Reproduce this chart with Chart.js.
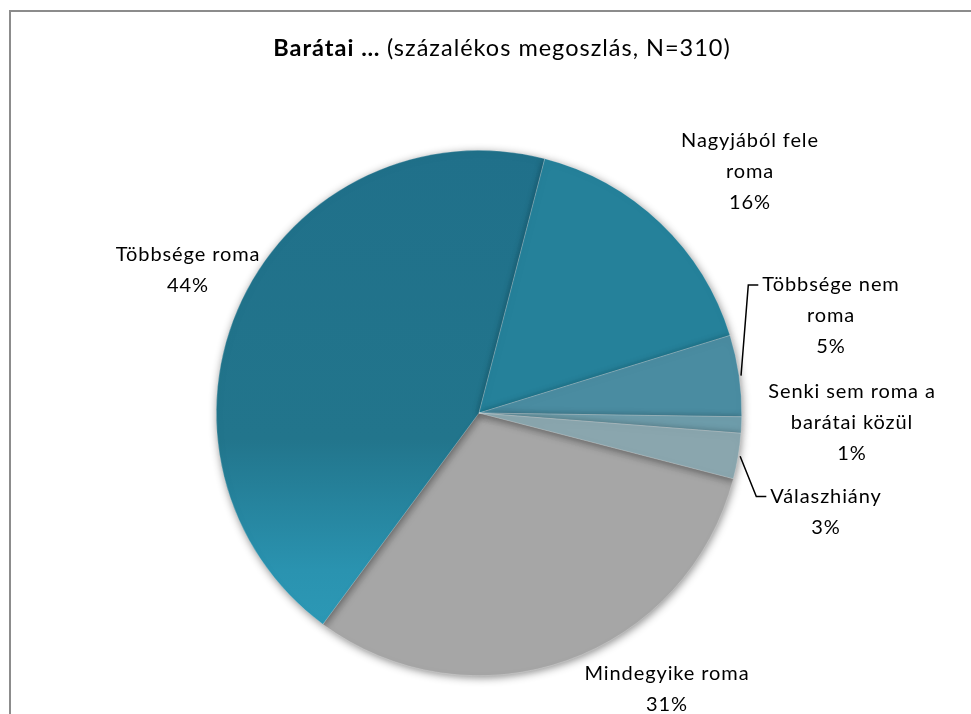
<!DOCTYPE html>
<html>
<head>
<meta charset="utf-8">
<script src="https://cdn.jsdelivr.net/npm/chart.js@4.4.1/dist/chart.umd.min.js"></script>
<style>
  html, body { margin: 0; padding: 0; background: #fff; }
  #wrap { position: relative; width: 971px; height: 714px; }
  #frame {
    position: absolute; left: 9px; top: 10px; width: 980px; height: 720px;
    border-left: 2px solid #8c8c8c; border-top: 2px solid #8c8c8c;
  }
</style>
</head>
<body>
<div id="wrap">
  <div id="frame"></div>
  <canvas id="pieChart" width="971" height="714"></canvas>
</div>
<script>
"use strict";

// data (percent, N=310)
var labels = [
  ['Mindegyike roma'],
  ['Többsége roma'],
  ['Nagyjából fele', 'roma'],
  ['Többsége nem', 'roma'],
  ['Senki sem roma a', 'barátai közül'],
  ['Válaszhiány']
];
var values = [31.1, 43.9, 16.2, 5.0, 1.0, 2.8];
var colors = ['#a6a6a6', null, '#25819a', '#4a8ca1', '#6e9dab', '#8aa6ae'];

// label block offsets from pie centre (px), and which labels get a leader line
var labelOffset = [
  [188, 276], [-291, -143], [271, -241], [352, -97], [373, 10], [347, 99]
];
var leader = [false, false, false, true, false, true];

var FONT = 'Lato, "Open Sans", sans-serif';

function bigSliceGradient(ctx, area) {
  var g = ctx.createLinearGradient(0, area.top, 0, area.bottom);
  g.addColorStop(0, '#20708a');
  g.addColorStop(0.55, '#22758c');
  g.addColorStop(0.8, '#2a93b0');
  g.addColorStop(1, '#2e9dba');
  return g;
}

var shadowPlugin = {
  id: 'shadow',
  beforeDatasetsDraw: function (chart) {
    var c = chart.ctx;
    c.save();
    c.shadowColor = 'rgba(0,0,0,0.45)';
    c.shadowBlur = 8;
    c.shadowOffsetX = 1;
    c.shadowOffsetY = 2;
  },
  afterDatasetsDraw: function (chart) {
    chart.ctx.restore();
  }
};

var textPlugin = {
  id: 'texts',
  afterDraw: function (chart) {
    var c = chart.ctx;
    var meta = chart.getDatasetMeta(0);
    var lh = 31;
    c.save();
    c.fillStyle = '#000';
    c.textBaseline = 'middle';

    // title: bold part + normal part
    var t1 = 'Barátai … ';
    var t2 = '(százalékos megoszlás, N=310)';
    c.letterSpacing = '1px';
    c.font = 'bold 23.5px ' + FONT;
    var w1 = c.measureText(t1).width;
    c.font = '23.5px ' + FONT;
    var w2 = c.measureText(t2).width;
    var x0 = 502 - (w1 + w2) / 2;
    c.textAlign = 'left';
    c.font = 'bold 23.5px ' + FONT;
    c.fillText(t1, x0, 48);
    c.font = '23.5px ' + FONT;
    c.fillText(t2, x0 + w1, 48);

    c.letterSpacing = '0.9px';
    c.font = '20px ' + FONT;
    meta.data.forEach(function (arc, i) {
      var cx = arc.x, cy = arc.y;
      var lines = labels[i].concat([Math.round(values[i]) + '%']);
      var bx = cx + labelOffset[i][0];
      var by = cy + labelOffset[i][1];
      var y0 = by - (lines.length - 1) * lh / 2;
      c.textAlign = 'center';
      lines.forEach(function (s, k) {
        c.fillText(s, bx, y0 + k * lh);
      });
      if (leader[i]) {
        var mid = (arc.startAngle + arc.endAngle) / 2;
        var ex = cx + Math.cos(mid) * arc.outerRadius;
        var ey = cy + Math.sin(mid) * arc.outerRadius;
        var left = bx - c.measureText(lines[0]).width / 2;
        c.beginPath();
        c.strokeStyle = '#000';
        c.lineWidth = 1.5;
        c.moveTo(ex + 2, ey);
        c.lineTo(left - 14, y0);
        c.lineTo(left - 4, y0);
        c.stroke();
      }
    });
    c.restore();
  }
};

var ctx = document.getElementById('pieChart').getContext('2d');
var myChart = new Chart(ctx, {
  type: 'pie',
  data: {
    labels: labels.map(function (l) { return l.join(' '); }),
    datasets: [{
      data: values,
      backgroundColor: function (context) {
        var i = context.dataIndex;
        if (colors[i]) return colors[i];
        var area = context.chart.chartArea;
        if (!area) return '#22758c';
        return bigSliceGradient(context.chart.ctx, area);
      },
      borderWidth: 0.6,
      borderColor: 'rgba(255,255,255,0.35)'
    }]
  },
  options: {
    responsive: false,
    animation: false,
    rotation: 104.5,
    layout: { padding: { left: 100, right: 113, top: 150, bottom: 38 } },
    plugins: {
      legend: { display: false },
      title: { display: false },
      tooltip: { enabled: false }
    }
  },
  plugins: [shadowPlugin, textPlugin]
});
</script>
</body>
</html>
